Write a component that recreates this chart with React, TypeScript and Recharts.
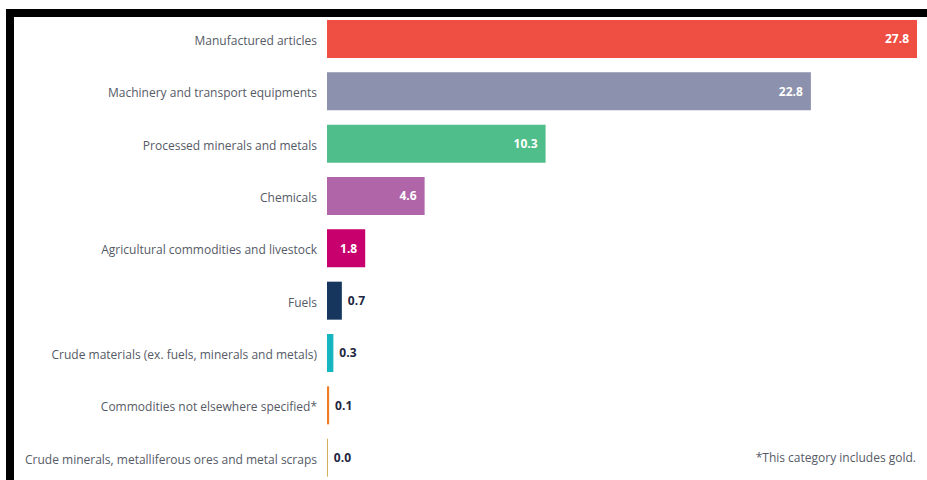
import React from 'react';
import { BarChart, Bar, XAxis, YAxis, Cell, LabelList } from 'recharts';

const categories = [
  'Manufactured articles',
  'Machinery and transport equipments',
  'Processed minerals and metals',
  'Chemicals',
  'Agricultural commodities and livestock',
  'Fuels',
  'Crude materials (ex. fuels, minerals and metals)',
  'Commodities not elsewhere specified*',
  'Crude minerals, metalliferous ores and metal scraps',
];
const values = [27.8, 22.8, 10.3, 4.6, 1.8, 0.7, 0.3, 0.1, 0.04];
const colors = ['#EF4E43', '#8C91AD', '#50BE8A', '#B065A8', '#C7006E', '#17365E', '#17B5C0', '#EF7B22', '#C9A23A'];
const footnote = '*This category includes gold.';

const data = categories.map((name, i) => ({ name, value: values[i] }));

const FONT = '"Open Sans", sans-serif';

const ValueLabel = (props: any) => {
  const { x, y, width, height, value } = props;
  const text = Number(value).toFixed(1);
  const cy = y + height / 2;
  if (value >= 1) {
    return (
      <text x={x + width - 8} y={cy} dy="0.35em" textAnchor="end" fill="#ffffff" fontFamily={FONT} fontWeight={700} fontSize={12}>
        {text}
      </text>
    );
  }
  return (
    <text x={x + width + 6} y={cy} dy="0.35em" textAnchor="start" fill="#1E2640" fontFamily={FONT} fontWeight={700} fontSize={12}>
      {text}
    </text>
  );
};

const CategoryTick = (props: any) => {
  const { x, y, payload } = props;
  return (
    <text x={x - 1} y={y + 1.5} dy="0.35em" textAnchor="end" fill="#555a66" fontFamily={FONT} fontSize={12}>
      {payload.value}
    </text>
  );
};

export default function App() {
  return (
    <div style={{ position: 'absolute', left: 0, top: 0, width: 927, height: 480, background: '#fff', overflow: 'hidden' }}>
      <div style={{ position: 'absolute', left: 6, top: 9, width: 921, height: 8, background: '#000' }} />
      <div style={{ position: 'absolute', left: 6, top: 9, width: 8, height: 471, background: '#000' }} />
      <div style={{ position: 'absolute', left: 0, top: 0 }}>
        <BarChart
          layout="vertical"
          width={927}
          height={484}
          data={data}
          margin={{ top: 13, right: 10, bottom: 0, left: 0 }}
        >
          <XAxis type="number" dataKey="value" domain={[0, 27.8]} hide />
          <YAxis
            type="category"
            dataKey="name"
            width={327}
            axisLine={false}
            tickLine={false}
            tickSize={6}
            tickMargin={3}
            interval={0}
            tick={<CategoryTick />}
          />
          <Bar dataKey="value" barSize={38} isAnimationActive={false}>
            {data.map((d, i) => (
              <Cell key={d.name} fill={colors[i]} />
            ))}
            <LabelList dataKey="value" content={<ValueLabel />} />
          </Bar>
        </BarChart>
      </div>
      <div
        style={{
          position: 'absolute',
          right: 11,
          top: 449,
          fontFamily: FONT,
          fontSize: 12,
          color: '#555a66',
          whiteSpace: 'nowrap',
        }}
      >
        {footnote}
      </div>
    </div>
  );
}
